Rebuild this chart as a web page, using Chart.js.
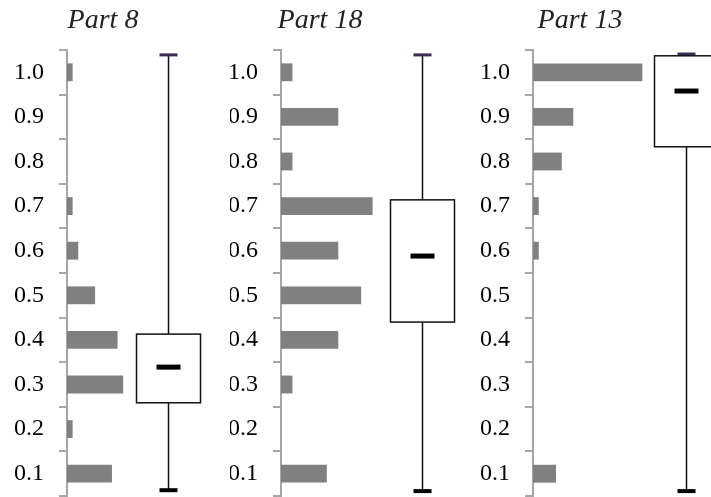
<!DOCTYPE html>
<html>
<head>
<meta charset="utf-8">
<title>Parts</title>
<script src="https://cdn.jsdelivr.net/npm/chart.js@4.4.1/dist/chart.umd.min.js"></script>
<style>
  html, body { margin: 0; padding: 0; background: #fff; overflow: hidden; }
  body { width: 711px; height: 497px; position: relative; }
  canvas { position: absolute; top: 0; }
</style>
</head>
<body>
<canvas id="p1" width="230" height="497" style="left:0px"></canvas>
<canvas id="p2" width="240" height="497" style="left:230px"></canvas>
<canvas id="p3" width="250" height="497" style="left:470px"></canvas>
<script>
// bins, top to bottom
const binLabels = ['1.0', '0.9', '0.8', '0.7', '0.6', '0.5', '0.4', '0.3', '0.2', '0.1'];

// histogram counts per bin
const part8Counts = [1, 0, 0, 1, 2, 5, 9, 10, 1, 8];
const part18Counts = [1, 5, 1, 8, 5, 7, 5, 1, 0, 4];
const part13Counts = [19, 7, 5, 1, 1, 0, 0, 0, 0, 4];

// box plots: min, q1, median, q3, max
const part8Box = [0.063, 0.259, 0.339, 0.413, 1.039];
const part18Box = [0.061, 0.440, 0.588, 0.714, 1.039];
const part13Box = [0.061, 0.833, 0.958, 1.037, 1.041];

const titles = ['Part 8', 'Part 18', 'Part 13'];

const AXIS_GRAY = '#a6a6a6';
const BAR_GRAY = '#808080';

// draws the panel title and the box plot next to the histogram
const boxPlotPlugin = {
  id: 'boxPlot',
  afterDatasetsDraw(chart, args, opts) {
    const ctx = chart.ctx;
    const yv = chart.scales.yv;
    const xs = chart.scales.x;
    const [mn, q1, med, q3, mx] = opts.stats;
    const cx = Math.round(xs.getPixelForValue(opts.boxX)) + 0.5;
    const half = 32;

    ctx.save();
    // whisker
    ctx.strokeStyle = '#111';
    ctx.lineWidth = 1.5;
    ctx.beginPath();
    ctx.moveTo(cx, yv.getPixelForValue(mx));
    ctx.lineTo(cx, yv.getPixelForValue(mn));
    ctx.stroke();

    // caps
    ctx.lineWidth = 3;
    ctx.strokeStyle = '#3a2c55';
    ctx.beginPath();
    ctx.moveTo(cx - 9, yv.getPixelForValue(mx));
    ctx.lineTo(cx + 9, yv.getPixelForValue(mx));
    ctx.stroke();
    ctx.lineWidth = 4;
    ctx.strokeStyle = '#000';
    ctx.beginPath();
    ctx.moveTo(cx - 9, yv.getPixelForValue(mn));
    ctx.lineTo(cx + 9, yv.getPixelForValue(mn));
    ctx.stroke();

    // box
    const top = yv.getPixelForValue(q3);
    const bot = yv.getPixelForValue(q1);
    ctx.fillStyle = '#fff';
    ctx.fillRect(cx - half, top, half * 2, bot - top);
    ctx.lineWidth = 1.5;
    ctx.strokeStyle = '#111';
    ctx.strokeRect(cx - half, top, half * 2, bot - top);

    // median
    ctx.lineWidth = 5;
    ctx.strokeStyle = '#000';
    ctx.beginPath();
    ctx.moveTo(cx - 12, yv.getPixelForValue(med));
    ctx.lineTo(cx + 12, yv.getPixelForValue(med));
    ctx.stroke();

    // title
    ctx.fillStyle = '#222';
    ctx.font = 'italic 28px "Liberation Serif", "Times New Roman", serif';
    ctx.textAlign = 'center';
    ctx.textBaseline = 'alphabetic';
    ctx.fillText(opts.title, opts.titleX, 28);
    ctx.restore();
  }
};

function makePanel(id, counts, stats, title, layout) {
  new Chart(document.getElementById(id), {
    type: 'bar',
    data: {
      labels: binLabels,
      datasets: [{
        data: counts,
        backgroundColor: BAR_GRAY,
        borderWidth: 0,
        categoryPercentage: 1,
        barPercentage: 0.4
      }]
    },
    options: {
      indexAxis: 'y',
      responsive: false,
      animation: false,
      layout: { padding: { top: 50, bottom: 1, left: 0, right: 0 } },
      plugins: {
        legend: { display: false },
        tooltip: { enabled: false },
        boxPlot: { stats: stats, title: title, titleX: layout.titleX, boxX: layout.boxX }
      },
      scales: {
        x: { display: false, min: 0, max: layout.xMax },
        y: {
          type: 'category',
          offset: true,
          afterFit(scale) {
            scale.width = layout.axisW;
            scale.paddingTop = 0;
            scale.paddingBottom = 0;
          },
          border: { color: AXIS_GRAY, width: 2 },
          grid: { drawOnChartArea: false, offset: true, tickLength: 8, color: AXIS_GRAY, lineWidth: 2 },
          ticks: {
            padding: 15,
            color: '#000',
            font: { family: '"Liberation Serif", "Times New Roman", serif', size: 24 }
          }
        },
        yv: { type: 'linear', display: false, offset: false, min: 0.05, max: 1.05 }
      }
    },
    plugins: [boxPlotPlugin]
  });
}

makePanel('p1', part8Counts, part8Box, titles[0], { axisW: 67, xMax: 29, boxX: 18.0, titleX: 103 });
makePanel('p2', part18Counts, part18Box, titles[1], { axisW: 51, xMax: 16.5, boxX: 12.3, titleX: 90 });
makePanel('p3', part13Counts, part13Box, titles[2], { axisW: 63, xMax: 32.5, boxX: 26.6, titleX: 110 });
</script>
</body>
</html>
